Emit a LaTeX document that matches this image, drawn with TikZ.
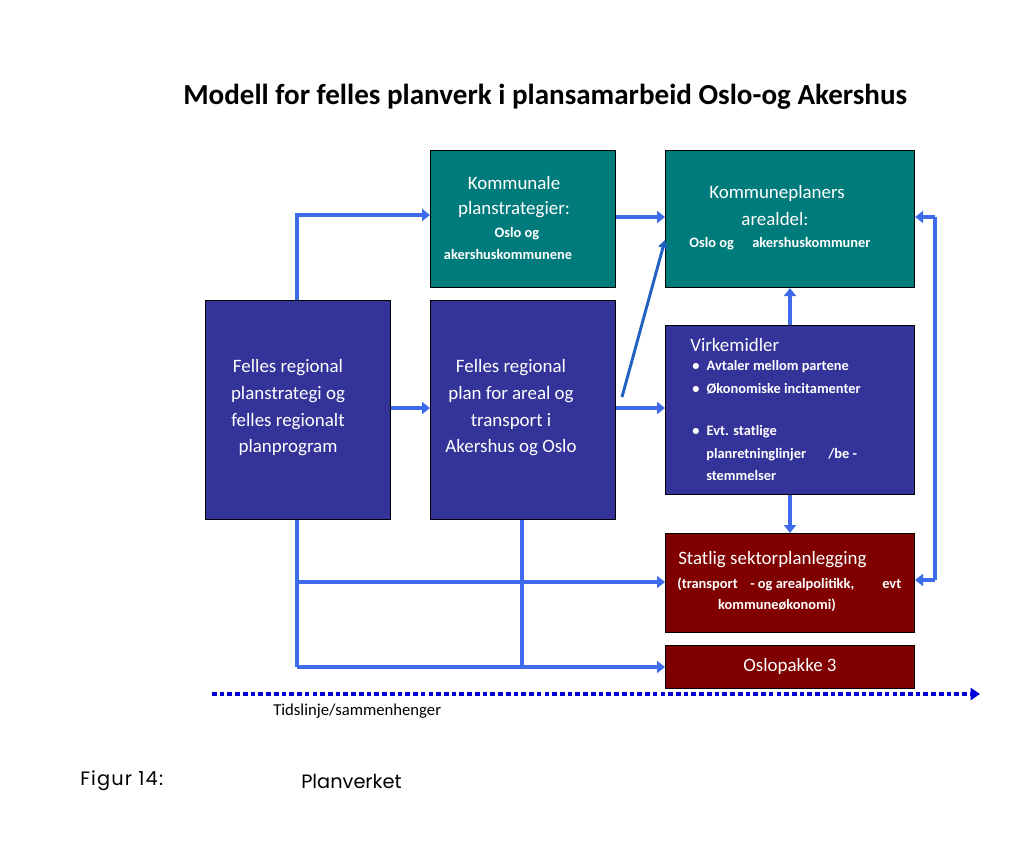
\documentclass[tikz,border=0pt]{standalone}
\usepackage{fontspec}
\setmainfont{Carlito}
\newfontfamily\capfont{Poppins}
\usetikzlibrary{arrows.meta}
\definecolor{teal}{HTML}{007B7B}
\definecolor{navy}{HTML}{333399}
\definecolor{darkred}{HTML}{800000}
\definecolor{arrowblue}{HTML}{3D6BEA}
\definecolor{diagblue}{HTML}{2162C0}
\definecolor{timeblue}{HTML}{0000DD}
\tikzset{
  box/.style={draw=black, line width=0.8pt, inner sep=0pt, anchor=north west},
  tealbox/.style={box, fill=teal},
  navybox/.style={box, fill=navy},
  redbox/.style={box, fill=darkred},
  big/.style={text=white, font=\fontsize{14.2}{16}\selectfont, inner sep=0pt},
  small/.style={text=white, font=\fontsize{10.8}{12}\selectfont\bfseries, inner sep=0pt},
  conn/.style={draw=arrowblue, line width=3pt},
  arr/.style={conn, -{Triangle[width=9pt,length=6pt]}},
}
\begin{document}
\begin{tikzpicture}[x=0.75pt,y=-0.75pt]
\useasboundingbox (0,0) rectangle (1024,843);
% title
\node[font=\fontsize{21.8}{24}\selectfont\bfseries, anchor=west, inner sep=0pt] (title) at (183,97) {Modell for felles planverk i plansamarbeid Oslo-og Akershus};
% boxes
\node[tealbox, minimum width=185*0.75pt, minimum height=137*0.75pt] (kom) at (430,150) {};
\node[tealbox, minimum width=249*0.75pt, minimum height=137*0.75pt] (areal) at (665,150) {};
\node[navybox, minimum width=185*0.75pt, minimum height=219*0.75pt] (frp) at (205,300) {};
\node[navybox, minimum width=185*0.75pt, minimum height=219*0.75pt] (frplan) at (430,300) {};
\node[navybox, minimum width=249*0.75pt, minimum height=169*0.75pt] (virk) at (665,325) {};
\node[redbox, minimum width=249*0.75pt, minimum height=99*0.75pt] (stat) at (665,533) {};
\node[redbox, minimum width=249*0.75pt, minimum height=43*0.75pt] (oslo) at (665,645) {};
% texts
\node[big] (t1) at (514,183) {Kommunale};
\node[big] (t2) at (514,210) {planstrategier:};
\node[small] (t3) at (517,234) {Oslo og};
\node[small] (t4) at (508,254) {akershuskommunene};
\node[big] (t5) at (777,193) {Kommuneplaners};
\node[big] (t6) at (775,219) {arealdel:};
\node[small, anchor=base west] (t7a) at (689,247) {Oslo og};
\node[small, anchor=base west] (t7b) at (752,247) {akershuskommuner};
\node[big, align=center, font=\fontsize{14.2}{20}\selectfont] (t8) at (288,408) {Felles regional\\planstrategi og\\felles regionalt\\planprogram};
\node[big, align=center, font=\fontsize{14.2}{20}\selectfont] (t9) at (511,408) {Felles regional\\plan for areal og\\transport i\\Akershus og Oslo};
\node[big, anchor=west] (t10) at (690,345) {Virkemidler};
\node[small, anchor=west] (b1) at (692,367) {\textbullet\hspace{0.5em}Avtaler mellom partene};
\node[small, anchor=west] (b2) at (692,389) {\textbullet\hspace{0.5em}Økonomiske incitamenter};
\node[small, anchor=west] (b3) at (692,432) {\textbullet\hspace{0.5em}Evt. statlige};
\node[small, anchor=base west] (b4) at (706,458) {planretninglinjer};
\node[small, anchor=base west] (b4b) at (828,458) {/be -};
\node[small, anchor=west] (b5) at (706,475) {stemmelser};
\node[big, anchor=west] (t11) at (678,560) {Statlig sektorplanlegging};
\node[small, anchor=base west] (t12a) at (677,588) {(transport};
\node[small, anchor=base west] (t12b) at (750,588) {- og arealpolitikk,};
\node[small, anchor=base west] (t12c) at (882,588) {evt};
\node[small] (t13) at (777,605) {kommuneøkonomi)};
\node[big] (t14) at (790,666) {Oslopakke 3};
% connectors
\coordinate (c1) at (297,215);
\draw[arr] (frp.north -| c1) |- (kom.west |- c1);
\draw[arr] (kom.east |- 0,217) -- (areal.west |- 0,217);
\draw[arr] (frp.east |- 0,408) -- (frplan.west |- 0,408);
\draw[arr] (frplan.east |- 0,408) -- (virk.west |- 0,408);
\draw[draw=diagblue, line width=2.2pt, -{Triangle[width=7pt,length=6pt]}] (622,397) -- (areal.west |- 0,240);
\draw[arr] (virk.north -| 790,0) -- (areal.south -| 790,0);
\draw[arr] (virk.south -| 790,0) -- (stat.north -| 790,0);
\coordinate (rt) at (935,217);
\coordinate (rb) at (935,580);
\draw[arr] (rt) -- (areal.east |- rt);
\draw[conn] (rt) -- (rb);
\draw[arr] (rb) -- (stat.east |- rb);
\coordinate (lb) at (297,667);
\draw[conn] (frp.south -| lb) -- (lb);
\draw[arr] (lb) -- (oslo.west |- lb);
\draw[arr] (297,582) -- (stat.west |- 0,582);
\draw[conn] (frplan.south -| 522,0) -- (522,667);
% timeline
\coordinate (tl0) at (212,694);
\coordinate (tl1) at (980,694);
\draw[draw=timeblue, line width=3pt, dash pattern=on 3.5pt off 2.3pt, -{Triangle[width=9pt,length=7pt]}] (tl0) -- (tl1);
\node[font=\fontsize{12.5}{14}\selectfont, anchor=west, inner sep=0pt] (tid) at (273,711) {Tidslinje/sammenhenger};
% caption
\node[font=\capfont\fontsize{14.5}{16}\selectfont, anchor=west, inner sep=0pt] (fig) at (80,781) {\addfontfeatures{LetterSpace=6}Figur 14:};
\node[font=\capfont\fontsize{14.5}{16}\selectfont, anchor=west, inner sep=0pt] (plv) at (301,781) {Planverket};
\end{tikzpicture}
\end{document}
